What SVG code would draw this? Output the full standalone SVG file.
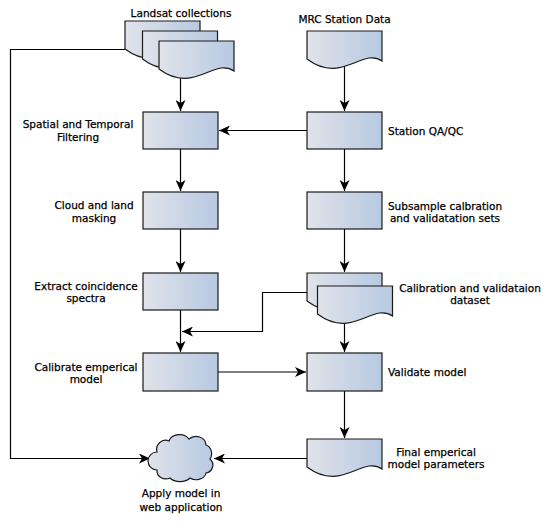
<svg xmlns="http://www.w3.org/2000/svg" xmlns:xlink="http://www.w3.org/1999/xlink" width="550" height="522" viewBox="0 0 550 522">
<style>
.shape{fill:url(#g);stroke:#1a1a1a;stroke-width:1.2}
.conn{fill:none;stroke:#000;stroke-width:1.2}
text{font-family:"DejaVu Sans",sans-serif;font-size:10.5px;fill:#000;stroke:#000;stroke-width:0.25}
.c{text-anchor:middle}
</style>
<defs>
<linearGradient id="g" x1="0" y1="0" x2="1" y2="0">
<stop offset="0" stop-color="#e0e3ea"/>
<stop offset="1" stop-color="#b7c9e2"/>
</linearGradient>
<marker id="a" markerUnits="userSpaceOnUse" markerWidth="12" markerHeight="10" viewBox="0 0 12 10" refX="11" refY="5" orient="auto">
<path d="M0,0 L11,5 L0,10 L3,5 Z" fill="#000"/>
</marker>
<path id="doc" d="M0,0 H75 V30 C55,16 35,54 0,28 Z"/>
</defs>

<g id="connectors">
<path class="conn" d="M180.5,77 V111" marker-end="url(#a)"/>
<path class="conn" d="M307,130.5 H219" marker-end="url(#a)"/>
<path class="conn" d="M180.5,149 V191" marker-end="url(#a)"/>
<path class="conn" d="M180.5,229 V272" marker-end="url(#a)"/>
<path class="conn" d="M180.5,310 V352" marker-end="url(#a)"/>
<path class="conn" d="M307,292.5 H262.5 V331.5 H182" marker-end="url(#a)"/>
<path class="conn" d="M218,372 H306" marker-end="url(#a)"/>
<path class="conn" d="M344.5,65 V111" marker-end="url(#a)"/>
<path class="conn" d="M344.5,149 V191" marker-end="url(#a)"/>
<path class="conn" d="M344.5,229 V272" marker-end="url(#a)"/>
<path class="conn" d="M344.5,322 V352" marker-end="url(#a)"/>
<path class="conn" d="M344.5,391 V438" marker-end="url(#a)"/>
<path class="conn" d="M307,458.5 H214" marker-end="url(#a)"/>
<path class="conn" d="M125,49.5 H10.5 V458.5 H150" marker-end="url(#a)"/>
</g>

<g id="landsat">
<use xlink:href="#doc" class="shape" transform="translate(125,21)"/>
<use xlink:href="#doc" class="shape" transform="translate(142.5,31)"/>
<use xlink:href="#doc" class="shape" transform="translate(159,41)"/>
<text class="c" x="181" y="17">Landsat collections</text>
</g>
<g id="mrc">
<use xlink:href="#doc" class="shape" transform="translate(307,31)"/>
<text class="c" x="344.5" y="23">MRC Station Data</text>
</g>

<g id="spatial">
<rect class="shape" x="143" y="112" width="75" height="37"/>
<text class="c" x="78" y="128">Spatial and Temporal</text>
<text class="c" x="78" y="141">Filtering</text>
</g>
<g id="cloudmask">
<rect class="shape" x="143" y="192" width="75" height="37"/>
<text class="c" x="94" y="209">Cloud and land</text>
<text class="c" x="94" y="222">masking</text>
</g>
<g id="extract">
<rect class="shape" x="143" y="273" width="75" height="37"/>
<text class="c" x="86" y="290">Extract coincidence</text>
<text class="c" x="86" y="302">spectra</text>
</g>
<g id="calibrate">
<rect class="shape" x="143" y="353" width="75" height="38"/>
<text class="c" x="86" y="371">Calibrate emperical</text>
<text class="c" x="86" y="383">model</text>
</g>

<g id="qaqc">
<rect class="shape" x="307" y="112" width="75" height="37"/>
<text x="388" y="135">Station QA/QC</text>
</g>
<g id="subsample">
<rect class="shape" x="307" y="192" width="75" height="37"/>
<text class="c" x="445" y="210">Subsample calbration</text>
<text class="c" x="445" y="222">and validatation sets</text>
</g>
<g id="dataset">
<use xlink:href="#doc" class="shape" transform="translate(307,273)"/>
<use xlink:href="#doc" class="shape" transform="translate(317.5,286)"/>
<text class="c" x="470" y="292">Calibration and validataion</text>
<text class="c" x="470" y="304">dataset</text>
</g>
<g id="validate">
<rect class="shape" x="307" y="353" width="75" height="38"/>
<text x="388" y="376">Validate model</text>
</g>
<g id="final">
<use xlink:href="#doc" class="shape" transform="translate(307,439)"/>
<text class="c" x="436" y="456">Final emperical</text>
<text class="c" x="436" y="468">model parameters</text>
</g>
<g id="apply">
<path class="shape" d="M157,452 a9,9 0 0 1 12,-11 a11,9 0 0 1 20,-2 a10,9 0 0 1 17,6 a8,9 0 0 1 4,14 a8,8 0 0 1 -4,14 a10,8 0 0 1 -16,5 a12,8 0 0 1 -20,0 a9,8 0 0 1 -13,-8 a9,9 0 0 1 0,-18 Z"/>
<text class="c" x="181" y="497">Apply model in</text>
<text class="c" x="181" y="511">web application</text>
</g>
</svg>
